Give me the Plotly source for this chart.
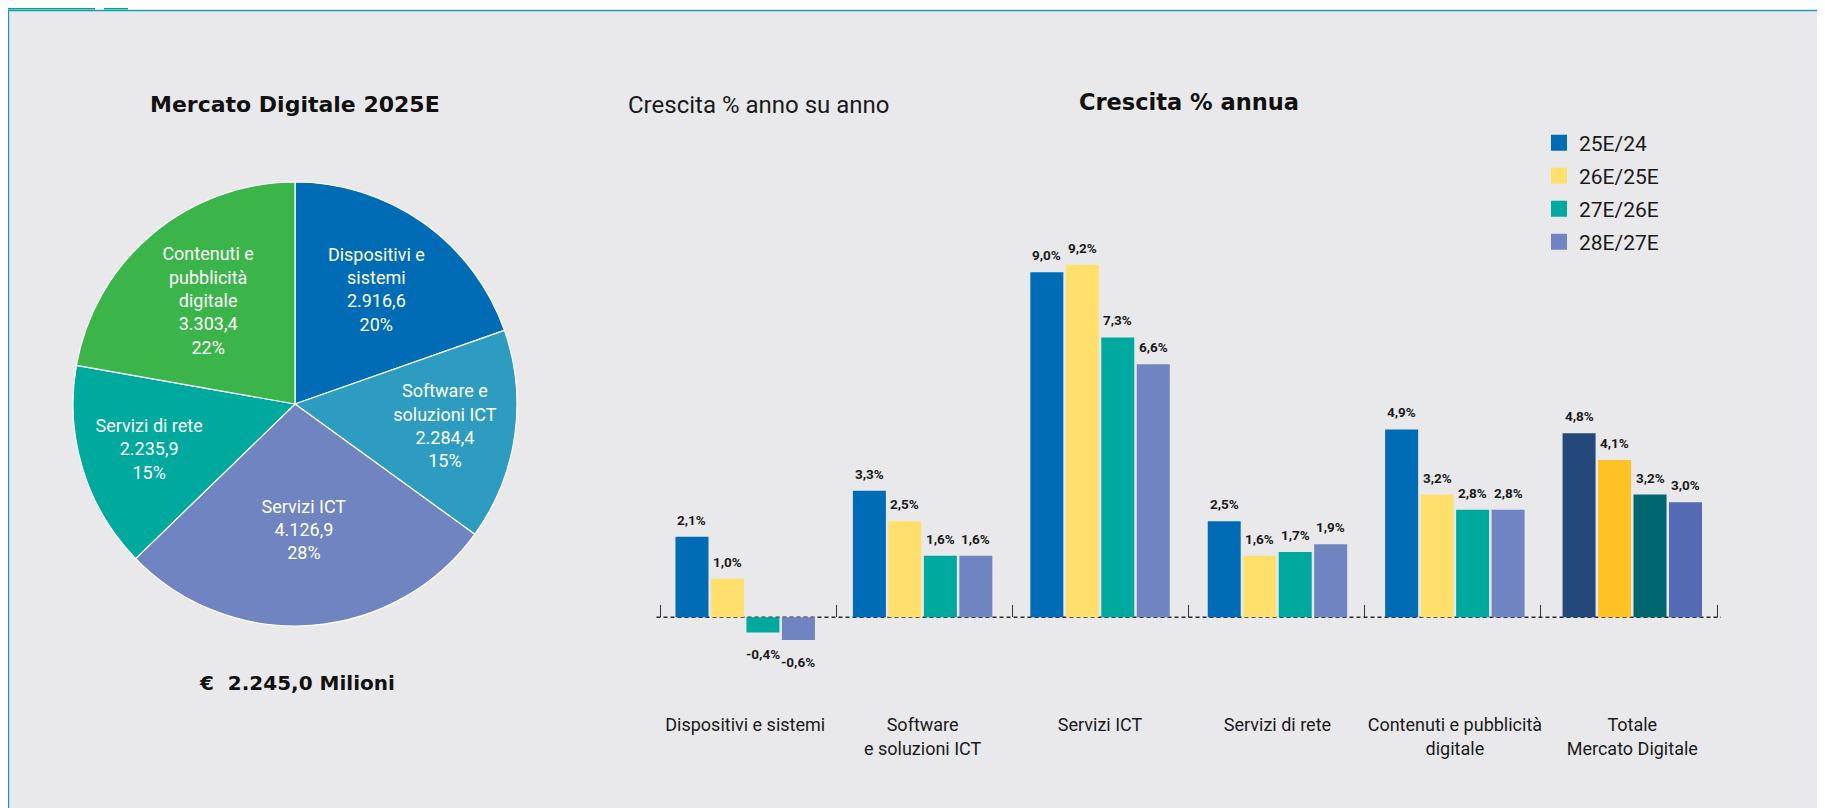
import plotly.graph_objects as go

# ---------------- data ----------------
pie_labels = ["Dispositivi e<br>sistemi", "Software e<br>soluzioni ICT", "Servizi ICT",
              "Servizi di rete", "Contenuti e<br>pubblicità<br>digitale"]
pie_values = [2916.6, 2284.4, 4126.9, 2235.9, 3303.4]
pie_colors = ["#006CB5", "#2E9CC1", "#6F84C1", "#00A99E", "#3BB54A"]

categories = ["Dispositivi e sistemi", "Software<br>e soluzioni ICT", "Servizi ICT",
              "Servizi di rete", "Contenuti e pubblicità<br>digitale", "Totale<br>Mercato Digitale"]
series_names = ["25E/24", "26E/25E", "27E/26E", "28E/27E"]
g_25_24 = [2.1, 3.3, 9.0, 2.5, 4.9, 4.8]
g_26_25 = [1.0, 2.5, 9.2, 1.6, 3.2, 4.1]
g_27_26 = [-0.4, 1.6, 7.3, 1.7, 2.8, 3.2]
g_28_27 = [-0.6, 1.6, 6.6, 1.9, 2.8, 3.0]
series_values = [g_25_24, g_26_25, g_27_26, g_28_27]
series_colors = ["#006CB5", "#FFE06D", "#00A99E", "#7084C1"]
total_colors = ["#234879", "#FFC224", "#00666F", "#546BB3"]

pie_title = "Mercato Digitale 2025E"
pie_subtitle = "€&nbsp; 2.245,0 Milioni"
left_title = "Crescita % anno su anno"
bar_title = "Crescita % annua"

# page body has an 8px margin: the figure is sized/positioned to compensate
OFF = 8
W, H = 1825 - OFF, 808 - OFF


def it_num(v, d=1):
    s = f"{v:,.{d}f}"
    return s.replace(",", "X").replace(".", ",").replace("X", ".")


def fx(x):
    return max(0.0, (x - OFF) / W)


def fy(y):
    return min(1.0, 1 - (y - OFF) / H)


total = sum(pie_values)
pie_text = [f"{l}<br>{it_num(v)}<br>{round(v / total * 100):.0f}%" for l, v in zip(pie_labels, pie_values)]

fig = go.Figure()

# ---------------- pie ----------------
fig.add_trace(go.Pie(
    labels=[l.replace("<br>", " ") for l in pie_labels], values=pie_values, text=pie_text,
    textinfo="text", textposition="inside", insidetextorientation="horizontal",
    sort=False, direction="clockwise", rotation=0,
    marker=dict(colors=pie_colors, line=dict(color="white", width=1.2)),
    insidetextfont=dict(family="Roboto", size=18, color="white"),
    domain=dict(x=[fx(73), fx(517)], y=[fy(626), fy(182)]),
    showlegend=False, hoverinfo="label+value+percent",
))

# ---------------- bars ----------------
bargap, bargroupgap = 0.2, 0.07
xdom = [fx(656.5), fx(1721)]
ymin, ymax = -2.45, 10.6
ydom = [fy(711), fy(211)]
xrange = [-0.5, len(categories) - 0.5]
boundaries = [k - 0.5 for k in range(len(categories) + 1)]

# boundary-tick axis: same scale as the category axis, slightly wider so end ticks are kept
pad = 4 / W
xdom2 = [xdom[0] - pad, xdom[1] + pad]
ext = pad / (xdom[1] - xdom[0]) * (xrange[1] - xrange[0])
xrange2 = [xrange[0] - ext, xrange[1] + ext]

for name, vals, col, tcol in zip(series_names, series_values, series_colors, total_colors):
    fig.add_trace(go.Bar(
        x=categories, y=vals, name=name,
        marker=dict(color=[col] * (len(categories) - 1) + [tcol], line=dict(width=0)),
        showlegend=False, hovertemplate="%{y:.1f}%<extra>" + name + "</extra>",
    ))
    # legend swatch (no data points), bound to the boundary-tick axis
    fig.add_trace(go.Scatter(
        x=[None], y=[None], mode="markers", name=name, legendgroup=name, xaxis="x2",
        marker=dict(symbol="square", size=16, color=col),
    ))

# value labels above / below bars
plot_w_px = (xdom[1] - xdom[0]) * W
slot_px = plot_w_px / (xrange[1] - xrange[0]) * (1 - bargap) / len(series_values)
annotations = []
for i, vals in enumerate(series_values):
    for c, v in zip(categories, vals):
        annotations.append(dict(
            x=c, y=v, xref="x", yref="y", showarrow=False,
            text="<b>" + it_num(v) + "%</b>",
            xshift=(i - (len(series_values) - 1) / 2) * slot_px,
            yshift=7 if v >= 0 else -12,
            yanchor="bottom" if v >= 0 else "top",
            font=dict(family="Roboto", size=13.5, color="#1a1a1a"),
        ))

# titles
annotations += [
    dict(x=fx(294.5), y=fy(104), xref="paper", yref="paper", showarrow=False,
         text="<b>" + pie_title + "</b>", xanchor="center", yanchor="middle",
         font=dict(family="DejaVu Sans", size=22, color="#111")),
    dict(x=fx(296.5), y=fy(683), xref="paper", yref="paper", showarrow=False,
         text="<b>" + pie_subtitle + "</b>", xanchor="center", yanchor="middle",
         font=dict(family="DejaVu Sans", size=20, color="#111")),
    dict(x=fx(626), y=fy(105), xref="paper", yref="paper", showarrow=False,
         text=left_title, xanchor="left", yanchor="middle",
         font=dict(family="Roboto", size=24, color="#1a1a1a")),
    dict(x=fx(1189), y=fy(102), xref="paper", yref="paper", showarrow=False,
         text="<b>" + bar_title + "</b>", xanchor="center", yanchor="middle",
         font=dict(family="DejaVu Sans", size=22.5, color="#111")),
]

# frame decorations
shapes = [
    dict(type="rect", xref="paper", yref="paper", x0=0, x1=1, y0=fy(10), y1=1,
         fillcolor="white", line=dict(width=0), layer="below"),
    dict(type="rect", xref="paper", yref="paper", x0=0, x1=fx(95), y0=fy(9.5), y1=1,
         fillcolor="#00A981", line=dict(width=0), layer="below"),
    dict(type="rect", xref="paper", yref="paper", x0=fx(104), x1=fx(128), y0=fy(9.5), y1=1,
         fillcolor="#00A981", line=dict(width=0), layer="below"),
    dict(type="line", xref="paper", yref="paper", x0=0, x1=1, y0=fy(10.5), y1=fy(10.5),
         line=dict(color="#1E96C8", width=1.5), layer="below"),
    dict(type="line", xref="paper", yref="paper", x0=fx(8.6), x1=fx(8.6), y0=0, y1=fy(10),
         line=dict(color="#1E96C8", width=1.2), layer="below"),
]
# dashed baseline at zero
shapes.append(dict(type="line", xref="x domain", yref="y", x0=0, x1=1, y0=0, y1=0,
                   line=dict(color="#2a2a2a", width=1.5, dash="4px,3px"), layer="below"))

zero_pos = ydom[0] + (0 - ymin) / (ymax - ymin) * (ydom[1] - ydom[0])

fig.update_layout(
    width=W, height=H, margin=dict(l=0, r=0, t=0, b=0, autoexpand=False),
    paper_bgcolor="#E9E9EB", plot_bgcolor="rgba(0,0,0,0)",
    barmode="group", bargap=bargap, bargroupgap=bargroupgap,
    xaxis=dict(domain=xdom, anchor="free", position=zero_pos, type="category",
               range=xrange, autorange=False, ticks="",
               showline=False, showgrid=False, zeroline=False, ticklabelstandoff=95,
               tickangle=0, automargin=False,
               tickfont=dict(family="Roboto", size=18, color="#1a1a1a")),
    xaxis2=dict(domain=xdom2, anchor="free", position=zero_pos, overlaying="x", type="linear",
                range=xrange2, autorange=False, tickmode="array", tickvals=boundaries,
                ticks="inside", ticklen=12, tickwidth=1.2, tickcolor="#333",
                showticklabels=False, showline=False, showgrid=False, zeroline=False,
                automargin=False, fixedrange=True),
    yaxis=dict(domain=ydom, range=[ymin, ymax], visible=False, fixedrange=True, automargin=False),
    legend=dict(x=fx(1539), y=fy(122.5), xanchor="left", yanchor="top",
                bgcolor="rgba(0,0,0,0)", traceorder="grouped", tracegroupgap=2.7,
                font=dict(family="Roboto", size=21, color="#1a1a1a"), itemclick=False),
    annotations=annotations, shapes=shapes, showlegend=True,
)

fig.write_html("out.html")
